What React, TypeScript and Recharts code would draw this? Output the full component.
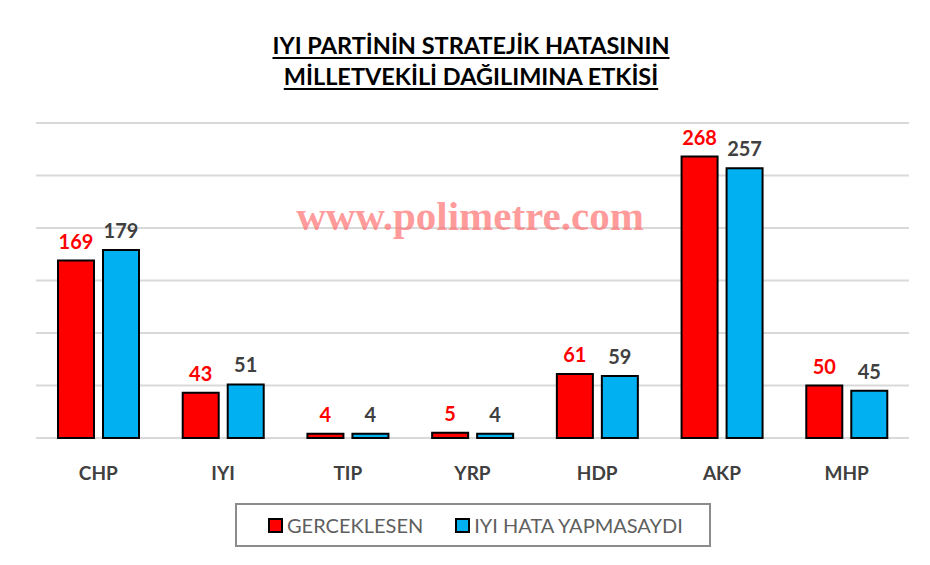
import React from "react";
import { BarChart, Bar, XAxis, YAxis, CartesianGrid, LabelList, Legend, Customized } from "recharts";

// party names on the x axis
const parties = ["CHP", "IYI", "TIP", "YRP", "HDP", "AKP", "MHP"];
// seats as they actually came out
const gerceklesen = [169, 43, 4, 5, 61, 268, 50];
// seats if IYI had not made the mistake
const iyiHataYapmasaydi = [179, 51, 4, 4, 59, 257, 45];
const yTicks = [0, 50, 100, 150, 200, 250, 300];

const seriesNames = ["GERCEKLESEN", "IYI HATA YAPMASAYDI"];
const COLORS = ["#FF0000", "#00B0F0"];

const data = parties.map((p, i) => ({
  party: p,
  gerceklesen: gerceklesen[i],
  iyi: iyiHataYapmasaydi[i],
}));

const FONT = "Lato, 'Open Sans', sans-serif";

const PartyTick = (props: any) => {
  const { x, y, payload } = props;
  return (
    <text x={x} y={y + 34} textAnchor="middle" fontFamily={FONT} fontWeight={700} fontSize={19} fill="#404040">
      {payload.value}
    </text>
  );
};

// black frame round the whole picture
const Frame = () => <rect x={6.5} y={4.5} width={920} height={556} fill="none" stroke="#000" strokeWidth={3} />;

const LegendBox = () => (
  <div
    style={{
      width: 476,
      height: 44,
      border: "2px solid #8c8c8c",
      boxSizing: "border-box",
      display: "flex",
      alignItems: "center",
      paddingLeft: 31,
      fontFamily: FONT,
      fontSize: 20,
      color: "#5f5f5f",
      whiteSpace: "nowrap",
    }}
  >
    {seriesNames.map((name, i) => (
      <span key={name} style={{ display: "flex", alignItems: "center", marginRight: 32, flexShrink: 0 }}>
        <span
          style={{
            width: 11,
            height: 11,
            background: COLORS[i],
            border: "2px solid #000",
            display: "inline-block",
            marginRight: 4,
          }}
        />
        {name}
      </span>
    ))}
  </div>
);

const App: React.FC = () => {
  return (
    <div style={{ position: "relative", width: 930, height: 565, margin: -8, background: "#fff" }}>
      <div
        style={{
          position: "absolute",
          left: 0,
          top: 30,
          width: 942,
          textAlign: "center",
          fontFamily: FONT,
          fontWeight: 700,
          fontSize: 23.5,
          lineHeight: "31px",
          color: "#000",
          textDecoration: "underline",
          textDecorationThickness: 2,
          textUnderlineOffset: 3,
        }}
      >
        IYI PARTİNİN STRATEJİK HATASININ
        <br />
        MİLLETVEKİLİ DAĞILIMINA ETKİSİ
      </div>
      <BarChart
        width={930}
        height={565}
        data={data}
        margin={{ top: 123, right: 21, bottom: 43, left: 36 }}
        barGap={9}
        barSize={36}
      >
        <CartesianGrid vertical={false} stroke="#d9d9d9" strokeWidth={2} />
        <XAxis dataKey="party" axisLine={false} tickLine={false} height={40} tick={<PartyTick />} />
        <YAxis hide domain={[0, 300]} ticks={yTicks} />
        <Legend
          verticalAlign="bottom"
          content={<LegendBox />}
          wrapperStyle={{ position: "absolute", left: 235, top: 503, width: 476, bottom: "auto" }}
        />
        <Bar dataKey="gerceklesen" name={seriesNames[0]} fill={COLORS[0]} stroke="#000" strokeWidth={2} isAnimationActive={false}>
          <LabelList dataKey="gerceklesen" position="top" offset={12} fill="#FF0000" fontFamily={FONT} fontWeight={700} fontSize={20} />
        </Bar>
        <Bar dataKey="iyi" name={seriesNames[1]} fill={COLORS[1]} stroke="#000" strokeWidth={2} isAnimationActive={false}>
          <LabelList dataKey="iyi" position="top" offset={12} fill="#404040" fontFamily={FONT} fontWeight={700} fontSize={20} />
        </Bar>
        <Customized component={Frame} />
      </BarChart>
      <div
        style={{
          position: "absolute",
          left: 0,
          top: 192,
          width: 940,
          textAlign: "center",
          fontFamily: "'Liberation Serif', 'DejaVu Serif', serif",
          fontWeight: 700,
          fontSize: 41,
          color: "rgba(255, 110, 110, 0.7)",
          pointerEvents: "none",
        }}
      >
        www.polimetre.com
      </div>
    </div>
  );
};

export default App;
